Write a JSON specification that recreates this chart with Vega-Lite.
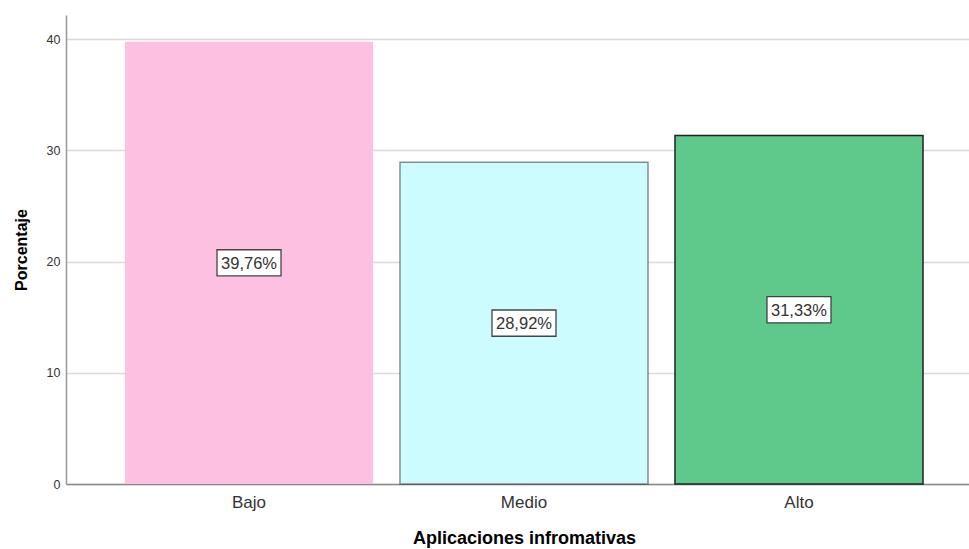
{
  "$schema": "https://vega.github.io/schema/vega-lite/v6.json",
  "width": 916,
  "height": 469,
  "autosize": {"type": "none"},
  "padding": {"left": 66, "top": 15, "right": 0, "bottom": 65},
  "background": "white",
  "config": {
    "view": {"stroke": null},
    "font": "Liberation Sans"
  },
  "data": {
    "values": [
      {"cat": "Bajo", "pct": 39.76, "half": 19.88, "label": "39,76%"},
      {"cat": "Medio", "pct": 28.92, "half": 14.46, "label": "28,92%"},
      {"cat": "Alto", "pct": 31.33, "half": 15.665, "label": "31,33%"}
    ]
  },
  "encoding": {
    "x": {
      "field": "cat",
      "type": "nominal",
      "sort": ["Bajo", "Medio", "Alto"],
      "scale": {"paddingInner": 0.098, "paddingOuter": 0.2145},
      "axis": {
        "title": "Aplicaciones infromativas",
        "titleFontSize": 18,
        "titleFontWeight": "bold",
        "titleColor": "#000000",
        "titlePadding": 19,
        "labelAngle": 0,
        "labelFontSize": 17,
        "labelColor": "#333333",
        "labelPadding": 10,
        "ticks": false,
        "tickSize": 0,
        "domainColor": "#888888",
        "domainWidth": 1.5,
        "grid": false
      }
    }
  },
  "layer": [
    {
      "mark": {"type": "bar", "strokeWidth": 1.5, "stroke": "#222222"},
      "encoding": {
        "y": {
          "field": "pct",
          "type": "quantitative",
          "scale": {"domain": [0, 42.16], "nice": false},
          "axis": {
            "title": "Porcentaje",
            "titleFontSize": 16,
            "titleFontWeight": "bold",
            "titleColor": "#000000",
            "titlePadding": 17,
            "values": [0, 10, 20, 30, 40],
            "labelFontSize": 12.5,
            "labelColor": "#333333",
            "labelPadding": 6,
            "ticks": false,
            "tickSize": 0,
            "domainColor": "#999999",
            "domainWidth": 1.5,
            "gridColor": "#d9d9d9",
            "gridWidth": 1.5
          }
        },
        "color": {
          "field": "cat",
          "type": "nominal",
          "scale": {"domain": ["Bajo", "Medio", "Alto"], "range": ["#fdc0e0", "#ccfcfe", "#5ec98a"]},
          "legend": null
        },
        "strokeOpacity": {
          "field": "cat",
          "type": "nominal",
          "scale": {"domain": ["Bajo", "Medio", "Alto"], "range": [0, 1, 1]},
          "legend": null
        }
      }
    },
    {
      "mark": {
        "type": "point",
        "shape": "M-1,-0.41L1,-0.41L1,0.41L-1,0.41Z",
        "filled": true,
        "fill": "white",
        "stroke": "#444444",
        "strokeWidth": 1.3,
        "opacity": 1,
        "size": 4096
      },
      "encoding": {
        "y": {"field": "half", "type": "quantitative"}
      }
    },
    {
      "mark": {"type": "text", "fontSize": 16.5, "color": "#333333", "baseline": "middle", "align": "center", "dy": 1},
      "encoding": {
        "y": {"field": "half", "type": "quantitative"},
        "text": {"field": "label"}
      }
    }
  ]
}
